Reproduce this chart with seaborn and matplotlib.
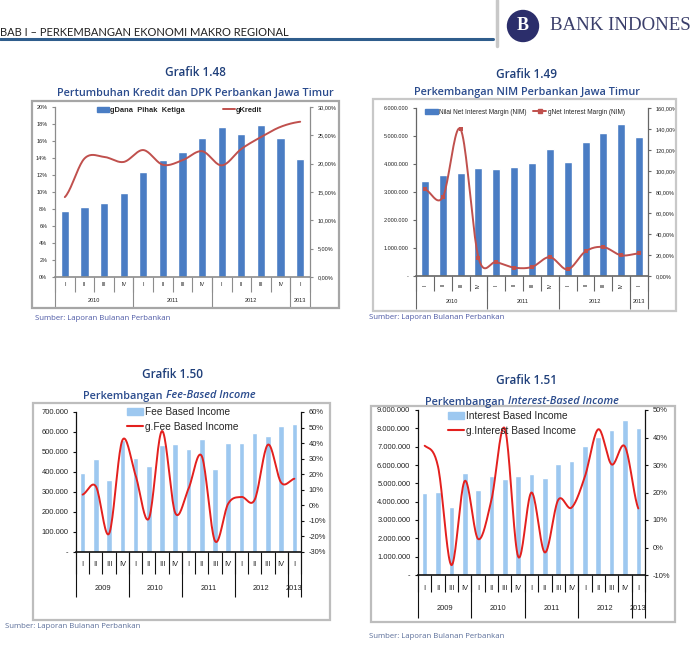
import numpy as np
import matplotlib.pyplot as plt
import matplotlib.patches as mpatches
from matplotlib.lines import Line2D
import seaborn as sns

sns.set_theme(style="white")
plt.rcParams['font.family'] = ['Liberation Sans', 'DejaVu Sans']
plt.rcParams['axes.unicode_minus'] = False

W, H = 692, 651

# Grafik 1.48 - kredit & DPK growth (%)
g148_years = ['2010', '2011', '2012', '2013']
g148_year_counts = [4, 4, 4, 1]
g148_quarters = ['I', 'II', 'III', 'IV'] * 3 + ['I']
g148_dpk = [7.8, 8.2, 8.7, 9.9, 12.4, 13.8, 14.7, 16.4, 17.7, 16.8, 17.9, 16.4, 13.9]
g148_kredit = [14.1, 20.9, 21.2, 20.3, 22.4, 19.8, 20.6, 22.2, 19.7, 22.6, 24.7, 26.5, 27.4]

# Grafik 1.49 - NIM
g149_years = ['2010', '2011', '2012', '2013']
g149_year_counts = [4, 4, 4, 1]
g149_quarters = ['I', 'II', 'III', 'IV'] * 3 + ['I']
g149_nim = [3380000, 3600000, 3680000, 3860000, 3820000, 3880000, 4020000, 4550000,
            4080000, 4800000, 5120000, 5420000, 4950000]
g149_gnim = [82.5, 75.0, 139.7, 17.5, 13.3, 8.0, 8.6, 18.0, 6.3, 23.5, 27.6, 19.7, 21.6]

# Grafik 1.50 - fee based income
g150_years = ['2009', '2010', '2011', '2012', '2013']
g150_year_counts = [4, 4, 4, 4, 1]
g150_quarters = ['I', 'II', 'III', 'IV'] * 4 + ['I']
g150_fee = [395000, 467000, 362000, 558000, 468000, 432000, 537000, 540000, 515000,
            567000, 415000, 543000, 547000, 593000, 578000, 630000, 640000]
g150_gfee = [6.9, 12.2, -18.2, 41.8, 19.3, -8.6, 47.8, -4.9, 10.7, 31.7, -22.9,
             1.1, 5.4, 3.6, 39.0, 14.6, 17.1]

# Grafik 1.51 - interest based income
g151_years = ['2009', '2010', '2011', '2012', '2013']
g151_year_counts = [4, 4, 4, 4, 1]
g151_quarters = ['I', 'II', 'III', 'IV'] * 4 + ['I']
g151_int = [4490000, 4530000, 3690000, 5560000, 4640000, 5380000, 5250000, 5420000,
            5530000, 5270000, 6070000, 6220000, 7050000, 7550000, 7930000, 8440000, 8040000]
g151_gint = [37.0, 29.4, -6.4, 24.2, 3.1, 17.3, 43.3, -3.3, 20.0, -1.8, 17.3, 14.5,
             25.8, 43.0, 30.2, 36.7, 14.2]

fig = plt.figure(figsize=(W / 100, H / 100), dpi=100)
fig.patch.set_facecolor('white')


def fx(x):
    return x / W


def fy(y):
    return 1 - y / H


def smooth(vals, steps=20):
    # catmull-rom, like excel's smoothed line
    y = np.asarray(vals, float)
    p = np.r_[y[0], y, y[-1]]
    xs, ys = [], []
    t = np.linspace(0, 1, steps, endpoint=False)
    for i in range(len(y) - 1):
        p0, p1, p2, p3 = p[i], p[i + 1], p[i + 2], p[i + 3]
        yy = 0.5 * (2 * p1 + (-p0 + p2) * t + (2 * p0 - 5 * p1 + 4 * p2 - p3) * t ** 2
                    + (-p0 + 3 * p1 - 3 * p2 + p3) * t ** 3)
        xs.append(i + t)
        ys.append(yy)
    xs.append([len(y) - 1])
    ys.append([y[-1]])
    return np.concatenate(xs), np.concatenate(ys)


def frame(l, t, r, b, color='#A6A6A6'):
    fig.add_artist(mpatches.Rectangle((fx(l), fy(b)), (r - l) / W, (b - t) / H,
                                      transform=fig.transFigure, fill=False,
                                      ec=color, lw=1.6))


def combo(box, bars, line, quarters, years, counts, bar_c, line_c, bar_w,
          ylim, yticks, ylabels, y2lim, y2ticks, y2labels, table, fs, spine_c,
          rotate=False, marker=False, lw=1.4):
    l, t, r, b = box
    ax = fig.add_axes([fx(l), fy(b), (r - l) / W, (b - t) / H])
    n = len(bars)
    sns.barplot(x=list(range(n)), y=bars, ax=ax, color=bar_c, saturation=1,
                width=bar_w)
    ax.set_xlim(-0.5, n - 0.5)
    ax.set_ylim(*ylim)
    ax.set_yticks(yticks)
    ax.set_yticklabels(ylabels)
    ax.set_xticks([])
    ax.set_xlabel('')
    ax.set_ylabel('')
    ax.set_facecolor('none')

    ax2 = ax.twinx()
    xs, ys = smooth(line)
    sns.lineplot(x=xs, y=ys, ax=ax2, color=line_c, lw=lw, sort=False, estimator=None)
    if marker:
        sns.scatterplot(x=list(range(n)), y=line, ax=ax2, color=line_c, marker='s',
                        s=10, linewidth=0, zorder=3)
    ax2.set_ylim(*y2lim)
    ax2.set_yticks(y2ticks)
    ax2.set_yticklabels(y2labels)
    ax2.set_xlim(-0.5, n - 0.5)
    ax2.set_ylabel('')

    for a in (ax, ax2):
        for s in a.spines.values():
            s.set_visible(False)
    ax.spines['left'].set_visible(True)
    ax.spines['left'].set_color(spine_c)
    ax.spines['left'].set_linewidth(0.9)
    ax.spines['bottom'].set_visible(True)
    ax.spines['bottom'].set_color(spine_c)
    ax.spines['bottom'].set_linewidth(1.2)
    ax2.spines['right'].set_visible(True)
    ax2.spines['right'].set_color(spine_c)
    ax2.spines['right'].set_linewidth(0.9)
    ax.tick_params(axis='y', direction='out', length=2.5, width=0.8, color=spine_c,
                   labelsize=fs, pad=3, left=True, labelcolor='#222222')
    ax2.tick_params(axis='y', direction='out', length=2.5, width=0.8, color=spine_c,
                    labelsize=fs, pad=3, right=True, labelcolor='#222222')

    # category table under the axis
    q_y, q_end, y_y, y_end = [(b - v) / (b - t) for v in table]
    tr = ax.get_xaxis_transform()
    for i, q in enumerate(quarters):
        ax.text(i, q_y, q, transform=tr, ha='center', va='center', fontsize=fs,
                rotation=90 if rotate else 0, color='#222222')
    ax.vlines(np.arange(n + 1) - 0.5, q_end, 0, transform=tr, colors=spine_c,
              lw=0.8, clip_on=False)
    edges = np.r_[0, np.cumsum(counts)] - 0.5
    ax.vlines(edges, y_end, 0, transform=tr, colors=spine_c, lw=0.8, clip_on=False)
    for k, yr in enumerate(years):
        ax.text((edges[k] + edges[k + 1]) / 2, y_y, yr, transform=tr, ha='center',
                va='center', fontsize=fs, color='#222222')
    return ax, ax2


title_c = '#1F3F7A'
sub_c = '#2A4B8D'
src_c = '#4E5AA6'

# ---- header ----
fig.text(fx(0.5), fy(32), 'BAB I \u2013 PERKEMBANGAN EKONOMI MAKRO REGIONAL', fontsize=8.0,
         family=['Lato', 'DejaVu Sans'], color='#222222', va='center', ha='left')
fig.add_artist(Line2D([0, fx(493)], [fy(38.5), fy(38.5)], transform=fig.transFigure,
                      color='#2F5D8C', lw=2.2))
fig.add_artist(Line2D([fx(497), fx(497)], [fy(0), fy(46)], transform=fig.transFigure,
                      color='#C8C8C8', lw=2.5))
fig.add_artist(mpatches.Ellipse((fx(523), fy(26)), 31 / W, 31 / H,
                                transform=fig.transFigure, color='#2B2E6B'))
fig.text(fx(523), fy(26), 'B', fontsize=13, family=['Liberation Serif'], color='white',
         ha='center', va='center', weight='bold')
fig.text(fx(550), fy(26), 'BANK INDONES', fontsize=13.6, family=['Liberation Serif'],
         color='#3B3F6B', ha='left', va='center')

# ---- Grafik 1.48 ----
frame(32, 101, 339, 308)
fig.text(fx(195), fy(73), 'Grafik 1.48', fontsize=8.5, family=['Open Sans', 'DejaVu Sans'],
         color=title_c, ha='center', va='center', weight='semibold')
fig.text(fx(195), fy(93), 'Pertumbuhan Kredit dan DPK Perbankan Jawa Timur', fontsize=7.8,
         family=['Open Sans', 'DejaVu Sans'], color=sub_c, ha='center', va='center',
         weight='semibold')
ax, ax2 = combo((55, 107, 310, 277), g148_dpk, g148_kredit, g148_quarters, g148_years,
                g148_year_counts, '#4A7DC4', '#C0504D', 0.42,
                (0, 20), np.arange(0, 21, 2), ['%d%%' % v for v in range(0, 21, 2)],
                (0, 30), np.arange(0, 31, 5), ['%d,00%%' % v for v in range(0, 31, 5)],
                (285, 292, 300, 308), 4.0, '#8C8C8C')
ax2.legend([mpatches.Patch(color='#4A7DC4'), Line2D([], [], color='#C0504D', lw=1.4)],
           ['gDana  Pihak  Ketiga', 'gKredit'], loc='upper left', ncol=2,
           bbox_to_anchor=(fx(97), fy(106.5)), bbox_transform=fig.transFigure,
           frameon=False, prop={'size': 5.4, 'weight': 'bold'}, handlelength=1.6,
           handleheight=0.7, handletextpad=0.2, columnspacing=5.0, borderpad=0,
           borderaxespad=0)
fig.text(fx(35), fy(318), 'Sumber: Laporan Bulanan Perbankan', fontsize=5.6,
         family=['Open Sans', 'DejaVu Sans'], color=src_c, va='center')

# ---- Grafik 1.49 ----
frame(373, 99, 676, 311, '#C8C8C8')
fig.text(fx(527), fy(74), 'Grafik 1.49', fontsize=8.5, family=['Open Sans', 'DejaVu Sans'],
         color=title_c, ha='center', va='center', weight='semibold')
fig.text(fx(527), fy(93), 'Perkembangan NIM Perbankan Jawa Timur', fontsize=7.8,
         family=['Open Sans', 'DejaVu Sans'], color=sub_c, ha='center', va='center',
         weight='semibold')
nim_ticks = np.arange(0, 6000001, 1000000)
nim_labels = ['-'] + ['{:,}'.format(v).replace(',', '.') for v in nim_ticks[1:]]
ax, ax2 = combo((416, 108, 648, 276), g149_nim, g149_gnim, g149_quarters, g149_years,
                g149_year_counts, '#4A7DC4', '#C0504D', 0.45,
                (0, 6000000), nim_ticks, nim_labels,
                (0, 160), np.arange(0, 161, 20), ['%d,00%%' % v for v in range(0, 161, 20)],
                (285, 291, 302, 309), 4.0, '#666666', rotate=True, marker=True)
ax2.legend([mpatches.Patch(color='#4A7DC4'),
            Line2D([], [], color='#C0504D', lw=1.4, marker='s', ms=2.6)],
           ['Nilai Net Interest Margin (NIM)', 'gNet Interest Margin (NIM)'],
           loc='upper left', ncol=2, bbox_to_anchor=(fx(425), fy(108.5)),
           bbox_transform=fig.transFigure, frameon=False, prop={'size': 4.7},
           handlelength=2.0, handleheight=0.8, handletextpad=0.2, columnspacing=1.0,
           borderpad=0, borderaxespad=0)
fig.text(fx(369), fy(317), 'Sumber: Laporan Bulanan Perbankan', fontsize=5.6,
         family=['Open Sans', 'DejaVu Sans'], color=src_c, va='center')

# ---- Grafik 1.50 ----
frame(33, 403, 330, 620, '#BDBDBD')
fig.text(fx(173), fy(375), 'Grafik 1.50', fontsize=8.5, family=['Open Sans', 'DejaVu Sans'],
         color=title_c, ha='center', va='center', weight='semibold')
fig.text(fx(165), fy(396), 'Perkembangan ', fontsize=7.8, family=['Open Sans', 'DejaVu Sans'],
         color=sub_c, ha='right', va='center', weight='semibold')
fig.text(fx(166), fy(396), 'Fee-Based Income', fontsize=7.8, family=['Open Sans', 'DejaVu Sans'],
         color=sub_c, ha='left', va='center', style='italic', weight='semibold')
fee_ticks = np.arange(0, 700001, 100000)
fee_labels = ['-'] + ['{:,}'.format(v).replace(',', '.') for v in fee_ticks[1:]]
ax, ax2 = combo((76, 412, 301, 552), g150_fee, g150_gfee, g150_quarters, g150_years,
                g150_year_counts, '#9DC8F0', '#E3201E', 0.42,
                (0, 700000), fee_ticks, fee_labels,
                (-30, 60), np.arange(-30, 61, 10), ['%d%%' % v for v in range(-30, 61, 10)],
                (564, 574, 588, 597), 5.4, '#111111')
ax2.legend([mpatches.Patch(color='#9DC8F0'), Line2D([], [], color='#E3201E', lw=1.5)],
           ['Fee Based Income', 'g.Fee Based Income'], loc='upper left',
           bbox_to_anchor=(fx(127), fy(407)), bbox_transform=fig.transFigure,
           frameon=False, fontsize=7.3, handlelength=1.6, handleheight=0.6,
           handletextpad=0.2, labelspacing=0.45, borderpad=0, borderaxespad=0)
fig.text(fx(5), fy(627), 'Sumber: Laporan Bulanan Perbankan', fontsize=5.6,
         family=['Open Sans', 'DejaVu Sans'], color='#5C6F9A', va='center')

# ---- Grafik 1.51 ----
frame(371, 406, 675, 622, '#BDBDBD')
fig.text(fx(527), fy(381), 'Grafik 1.51', fontsize=8.5, family=['Open Sans', 'DejaVu Sans'],
         color=title_c, ha='center', va='center', weight='semibold')
fig.text(fx(507), fy(402), 'Perkembangan ', fontsize=7.8, family=['Open Sans', 'DejaVu Sans'],
         color=sub_c, ha='right', va='center', weight='semibold')
fig.text(fx(508), fy(402), 'Interest-Based Income', fontsize=7.8,
         family=['Open Sans', 'DejaVu Sans'], color=sub_c, ha='left', va='center',
         style='italic', weight='semibold')
int_ticks = np.arange(0, 9000001, 1000000)
int_labels = ['-'] + ['{:,}'.format(v).replace(',', '.') for v in int_ticks[1:]]
ax, ax2 = combo((418, 410, 645, 575), g151_int, g151_gint, g151_quarters, g151_years,
                g151_year_counts, '#9DC8F0', '#E3201E', 0.42,
                (0, 9000000), int_ticks, int_labels,
                (-10, 50), np.arange(-10, 51, 10), ['%d%%' % v for v in range(-10, 51, 10)],
                (588, 592, 609, 618), 5.4, '#111111')
ax2.legend([mpatches.Patch(color='#9DC8F0'), Line2D([], [], color='#E3201E', lw=1.5)],
           ['Interest Based Income', 'g.Interest Based Income'], loc='upper left',
           bbox_to_anchor=(fx(448), fy(411)), bbox_transform=fig.transFigure,
           frameon=False, fontsize=7.3, handlelength=1.6, handleheight=0.6,
           handletextpad=0.2, labelspacing=0.45, borderpad=0, borderaxespad=0)
fig.text(fx(369), fy(636), 'Sumber: Laporan Bulanan Perbankan', fontsize=5.6,
         family=['Open Sans', 'DejaVu Sans'], color='#5C6F9A', va='center')

fig.savefig('out.png', dpi=100)
